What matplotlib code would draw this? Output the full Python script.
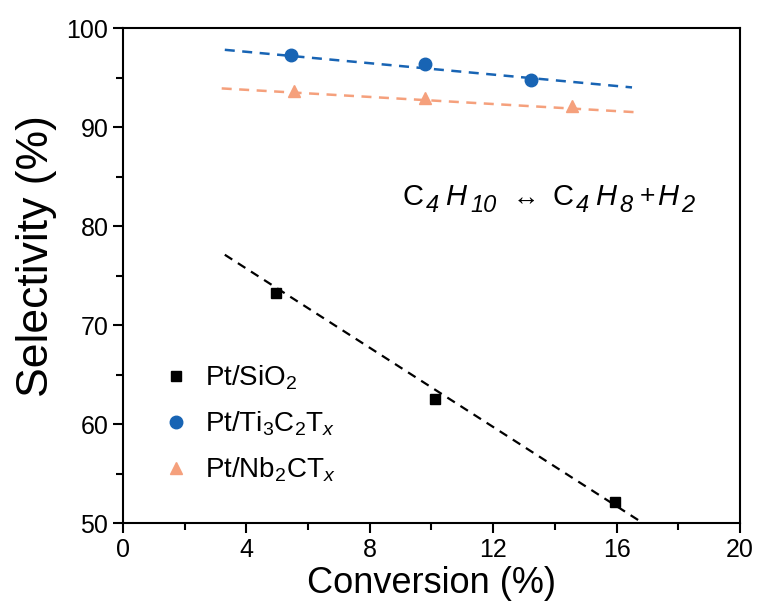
import numpy as np
import matplotlib
matplotlib.use("Agg")
import matplotlib.pyplot as plt
from matplotlib.ticker import MultipleLocator
from matplotlib.font_manager import FontProperties

plt.rcParams['font.family'] = ['Liberation Sans', 'DejaVu Sans']
plt.rcParams['mathtext.fontset'] = 'custom'
plt.rcParams['mathtext.rm'] = 'Liberation Sans'
plt.rcParams['mathtext.it'] = 'Liberation Sans:italic'
plt.rcParams['mathtext.bf'] = 'Liberation Sans:bold'

#%% DATA

# Pt/SiO2
x_sio2 = [4.95, 10.1, 15.95]
y_sio2 = [73.2, 62.5, 52.1]
fit_x_sio2 = [3.3, 16.7]
fit_y_sio2 = [77.1, 50.3]

# Pt/Ti3C2Tx
x_ti = [5.44, 9.8, 13.24]
y_ti = [97.3, 96.4, 94.7]
fit_x_ti = [3.3, 16.5]
fit_y_ti = [97.8, 94.0]

# Pt/Nb2CTx
x_nb = [5.53, 9.8, 14.56]
y_nb = [93.6, 92.9, 92.1]
fit_x_nb = [3.2, 16.6]
fit_y_nb = [93.9, 91.5]

labels = ['Pt/SiO$_2$', 'Pt/Ti$_3$C$_2$T$_x$', 'Pt/Nb$_2$CT$_x$']

# reaction text, piece by piece: (text, kind) kind 0=main, 1=subscript, 2=symbol
eq_pieces = [('C', 0), ('4', 1), ('H', 0), ('10', 1), ('\u2194', 2),
             ('C', 0), ('4', 1), ('H', 0), ('8', 1), ('+', 2), ('H', 0), ('2', 1)]
eq_italic = [False, True, True, True, False, False, True, True, True, False, True, True]
eq_gap_before = [0, 1, 5, 3, 15, 13, 1, 5, 3, 6, 1, 2]

c_black = 'black'
c_blue = '#1864b4'
c_orange = '#f5a07c'

#%% PLOT

fig = plt.figure(figsize=(7.61, 6.12), dpi=100)
ax = fig.add_axes([0.1616, 0.1454, 0.8108, 0.8088])

dash = (4, 3)
ax.plot(fit_x_sio2, fit_y_sio2, color=c_black, lw=1.6, dashes=dash)
ax.plot(fit_x_ti, fit_y_ti, color=c_blue, lw=1.8, dashes=dash)
ax.plot(fit_x_nb, fit_y_nb, color=c_orange, lw=1.8, dashes=dash)

ax.plot(x_sio2, y_sio2, 's', color=c_black, ms=7, label=labels[0])
ax.plot(x_ti, y_ti, 'o', color=c_blue, ms=9, label=labels[1])
ax.plot(x_nb, y_nb, '^', color=c_orange, ms=9, label=labels[2])

# equation C4H10 <-> C4H8 + H2, pieces chained left to right
rend = fig.canvas.get_renderer()
dx = 0
for (txt, kind), it, gap in zip(eq_pieces, eq_italic, eq_gap_before):
    size = {0: 21, 1: 17, 2: 19}[kind]
    style = 'italic' if it else 'normal'
    dy = -7 if kind == 1 else (2 if txt == '+' else 0)
    dx += gap
    ax.annotate(txt, xy=(9.07, 82.1), xytext=(dx, dy), textcoords='offset pixels',
                fontsize=size, style=style, ha='left', va='baseline')
    fp = FontProperties(family='Liberation Sans', size=size, style=style)
    w, h, d = rend.get_text_width_height_descent(txt, fp, ismath=False)
    dx += w + 1

ax.set_xlim(0, 20)
ax.set_ylim(50, 100)
ax.xaxis.set_major_locator(MultipleLocator(4))
ax.xaxis.set_minor_locator(MultipleLocator(2))
ax.yaxis.set_major_locator(MultipleLocator(10))
ax.yaxis.set_minor_locator(MultipleLocator(5))
ax.tick_params(which='both', direction='out', width=1.5, labelsize=18)
ax.tick_params(which='major', length=7)
ax.tick_params(which='minor', length=5)
for s in ax.spines.values():
    s.set_linewidth(1.5)

ax.set_xlabel('Conversion (%)', fontsize=26, labelpad=3)
ax.set_ylabel('Selectivity (%)', fontsize=32)
ax.yaxis.set_label_coords(-0.107, 0.54)

ax.legend(loc='lower left', bbox_to_anchor=(0.012, 0.028), frameon=False,
          fontsize=20, handletextpad=0.3, labelspacing=0.63, handlelength=1.5)

fig.savefig('out.png', dpi=100)
